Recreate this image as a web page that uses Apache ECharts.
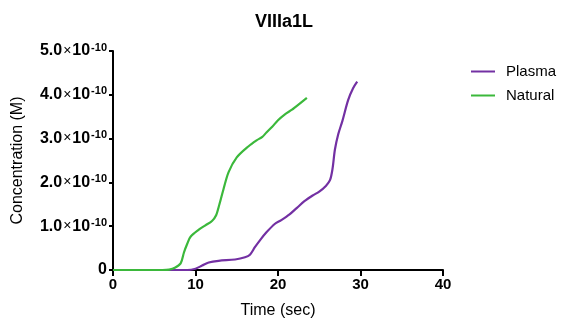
<!DOCTYPE html>
<html>
<head>
<meta charset="utf-8">
<script src="https://cdn.jsdelivr.net/npm/echarts@6/dist/echarts.min.js"></script>
<style>
  html, body { margin: 0; padding: 0; background: #fff; }
  #chart { width: 561px; height: 325px; }
</style>
</head>
<body>
<div id="chart"></div>
<script>
// time (sec) / concentration (M)
var plasmaTime = [0, 9, 10, 10.8, 11.6, 12.8, 14.8, 16, 16.6, 17.2, 17.9, 18.6, 19.6, 20.4, 21.4, 22.3, 23.2, 24.2, 25, 25.8, 26.3, 26.6, 26.9, 27.3, 27.8, 28.5, 29.1, 29.6]
var plasmaConc = [0, 0, 0.03e-10, 0.1e-10, 0.17e-10, 0.21e-10, 0.24e-10, 0.29e-10, 0.35e-10, 0.52e-10, 0.7e-10, 0.86e-10, 1.05e-10, 1.14e-10, 1.27e-10, 1.42e-10, 1.57e-10, 1.7e-10, 1.79e-10, 1.92e-10, 2.05e-10, 2.3e-10, 2.75e-10, 3.1e-10, 3.4e-10, 3.88e-10, 4.15e-10, 4.3e-10]
var naturalTime = [0, 6, 6.8, 7.5, 8.2, 8.6, 9, 9.4, 10.4, 11.2, 12, 12.5, 12.9, 13.4, 14, 15, 16.4, 17.4, 18.1, 18.6, 19.3, 20, 20.8, 21.7, 22.1, 23.5]
var naturalConc = [0, 0, 0.01e-10, 0.05e-10, 0.15e-10, 0.4e-10, 0.6e-10, 0.76e-10, 0.92e-10, 1.02e-10, 1.12e-10, 1.25e-10, 1.5e-10, 1.85e-10, 2.23e-10, 2.57e-10, 2.82e-10, 2.96e-10, 3.04e-10, 3.14e-10, 3.27e-10, 3.42e-10, 3.55e-10, 3.66e-10, 3.72e-10, 3.93e-10]
var xTicks = [0, 10, 20, 30, 40]

function pairs (xs, ys) {
  return xs.map(function (x, i) { return [x, ys[i]] })
}

var chart = echarts.init(document.getElementById('chart'))
var font = '"Liberation Sans", Arial, sans-serif'

chart.setOption({
  animation: false,
  textStyle: { fontFamily: font },
  title: {
    text: 'VIIIa1L',
    left: 279,
    top: 8,
    textAlign: 'center',
    textStyle: { fontSize: 18, fontWeight: 'bold', color: '#000', fontFamily: font }
  },
  legend: {
    orient: 'vertical',
    left: 466,
    top: 59,
    itemWidth: 24,
    itemHeight: 2,
    itemGap: 9,
    icon: 'rect',
    textStyle: { fontSize: 15, color: '#000', fontFamily: font, padding: [0, 0, 0, 6] },
    data: ['Plasma', 'Natural']
  },
  grid: { left: 113, right: 118, top: 51, bottom: 55, outerBoundsMode: 'none' },
  xAxis: {
    type: 'value',
    min: 0,
    max: 40,
    interval: 10,
    name: 'Time (sec)',
    nameLocation: 'middle',
    nameGap: 33,
    nameTextStyle: { fontSize: 16, color: '#000', fontFamily: font },
    axisLine: { lineStyle: { color: '#000', width: 2 } },
    axisTick: { length: 6, lineStyle: { color: '#000', width: 2 } },
    axisLabel: {
      fontSize: 15, fontWeight: 'bold', color: '#000', margin: 7, fontFamily: font,
      formatter: function (v) { return xTicks.indexOf(v) >= 0 ? String(v) : '' }
    },
    splitLine: { show: false }
  },
  yAxis: {
    type: 'value',
    min: 0,
    max: 5e-10,
    interval: 1e-10,
    name: 'Concentration (M)',
    nameLocation: 'middle',
    nameGap: 87,
    nameTextStyle: { fontSize: 16, color: '#000', fontFamily: font },
    axisLine: { show: true, lineStyle: { color: '#000', width: 2 } },
    axisTick: { show: true, length: 4, lineStyle: { color: '#000', width: 2 } },
    axisLabel: {
      color: '#000',
      margin: 6,
      formatter: function (v) {
        if (v === 0) return '{b|0}'
        return '{b|' + (v / 1e-10).toFixed(1) + '}{x|×}{b|10}{s|-10}'
      },
      rich: {
        b: { fontSize: 16, fontWeight: 'bold', color: '#000', fontFamily: font },
        x: { fontSize: 14, color: '#000', fontFamily: font, padding: [0, 1, 0, 1] },
        s: { fontSize: 11, fontWeight: 'bold', color: '#000', fontFamily: font, verticalAlign: 'top', padding: [0, 0, 7, 1] }
      }
    },
    splitLine: { show: false }
  },
  series: [
    {
      name: 'Plasma',
      type: 'line',
      data: pairs(plasmaTime, plasmaConc),
      smooth: 0.3,
      showSymbol: false,
      color: '#7330a3',
      lineStyle: { width: 2.2, color: '#7330a3' }
    },
    {
      name: 'Natural',
      type: 'line',
      data: pairs(naturalTime, naturalConc),
      smooth: 0.3,
      showSymbol: false,
      color: '#3bb83b',
      lineStyle: { width: 2.2, color: '#3bb83b' }
    }
  ]
})
</script>
</body>
</html>
